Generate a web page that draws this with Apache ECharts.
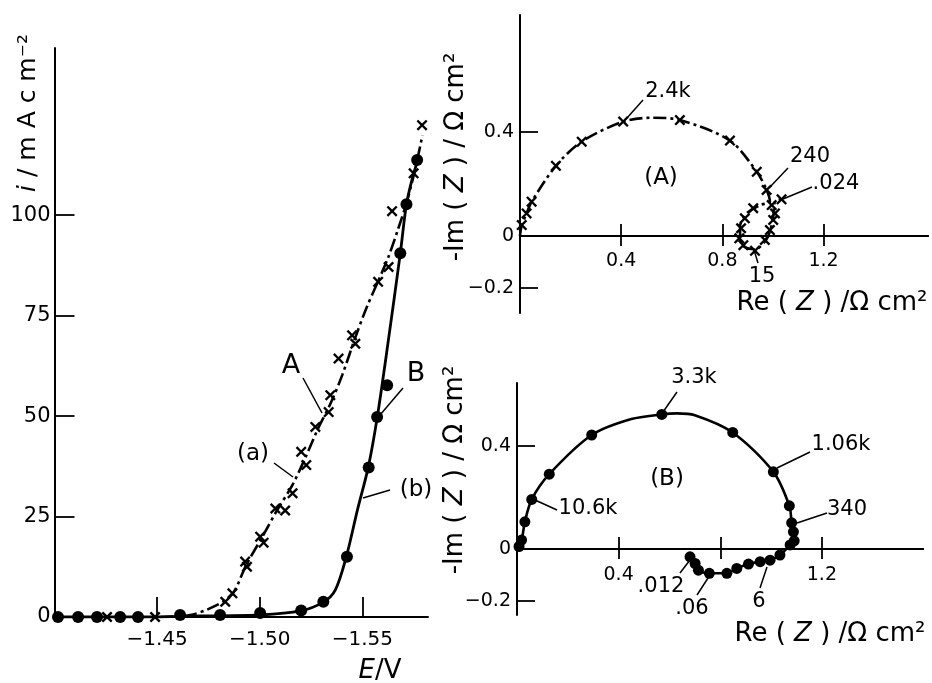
<!DOCTYPE html>
<html><head><meta charset="utf-8">
<script src="https://cdn.jsdelivr.net/npm/echarts@6/dist/echarts.min.js"></script>
<style>html,body{margin:0;padding:0;background:#fff}#c{width:932px;height:683px}</style>
</head><body><div id="c"></div>
<script>
// ---------- Left panel: i vs E ----------
const aPointsE = [-1.4256,-1.4490,-1.4832,-1.4867,-1.4929,-1.4938,-1.5002,-1.5019,-1.5076,-1.5124,-1.5160,-1.5202,-1.5227,-1.5271,-1.5336,-1.5344,-1.5384,-1.5450,-1.5466,-1.5577,-1.5628,-1.5645,-1.5750,-1.5791];
const aPointsI = [0,0,3.8,5.9,13.8,12.5,20,18.5,27,26.5,30.8,41.1,37.8,47.3,51,55.2,64.3,70.1,68,83.4,87.1,101,110.4,122.4];
const aCurveE = [-1.4515,-1.4661,-1.4773,-1.4866,-1.4934,-1.5012,-1.5085,-1.5159,-1.5222,-1.5285,-1.5344,-1.5402,-1.5466,-1.5520,-1.5573,-1.5627,-1.5676,-1.5715,-1.5754,-1.5793];
const aCurveI = [0,0.5,2.5,5.7,12.9,19.9,26.6,32.8,39.6,47.0,53.0,60.2,69.6,76.9,83.1,89.6,96.8,103.0,110.7,119.9];
const bPointsE = [-1.4017,-1.4115,-1.4207,-1.4320,-1.4407,-1.4612,-1.4807,-1.5002,-1.5202,-1.5310,-1.5425,-1.5531,-1.5572,-1.5621,-1.5685,-1.5715,-1.5767];
const bPointsI = [0,0,0,0,0,0.5,0.5,1.0,1.6,3.8,15,37.2,49.8,57.7,90.5,102.7,113.7];
const bCurveE = [-1.4000,-1.4466,-1.4710,-1.5002,-1.5198,-1.5310,-1.5368,-1.5422,-1.5476,-1.5529,-1.5573,-1.5627,-1.5685,-1.5715,-1.5744,-1.5773];
const bCurveI = [0,0,0.25,0.5,1.5,3.7,6.7,15,26.6,37.3,49.8,68.9,90.5,102.7,109.2,114.2];
const ivTicksE = [-1.45,-1.50,-1.55];
const ivTicksI = [0,25,50,75,100];

// ---------- Panel (A): Nyquist ----------
const nyAPointsRe = [0.007,0.026,0.046,0.142,0.244,0.408,0.632,0.830,0.936,0.975,1.034,0.922,0.889,0.874,0.867,0.883,0.929,0.968,0.988,1.001,1.008,0.995];
const nyAPointsIm = [0.042,0.087,0.132,0.270,0.363,0.440,0.446,0.367,0.247,0.177,0.141,0.107,0.068,0.030,-0.009,-0.035,-0.057,-0.015,0.023,0.062,0.087,0.119];
const nyACurveRe = [0,0.007,0.026,0.046,0.142,0.244,0.408,0.520,0.632,0.830,0.936,0.975,0.988,0.949,0.896,0.870,0.870,0.889,0.929,0.968,0.988,1.001,1.008,1.028];
const nyACurveIm = [0,0.042,0.087,0.132,0.270,0.363,0.440,0.455,0.446,0.367,0.247,0.177,0.132,0.119,0.087,0.036,-0.015,-0.043,-0.051,-0.022,0.017,0.074,0.132,0.141];

// ---------- Panel (B): Nyquist ----------
const nyBPointsRe = [0.008,0.018,0.031,0.058,0.127,0.294,0.570,0.849,1.009,1.072,1.081,1.088,1.091,1.075,1.035,0.996,0.957,0.911,0.865,0.826,0.757,0.714,0.701,0.681];
const nyBPointsIm = [0.010,0.035,0.106,0.193,0.291,0.443,0.523,0.453,0.300,0.168,0.102,0.067,0.032,0.016,-0.023,-0.043,-0.049,-0.058,-0.075,-0.094,-0.094,-0.082,-0.056,-0.030];
const nyBCurveRe = [0,0.018,0.031,0.058,0.127,0.294,0.450,0.570,0.629,0.700,0.849,1.009,1.072,1.081,1.088,1.091,1.075,1.035,0.996,0.957,0.911,0.865,0.826,0.757,0.714,0.701,0.681];
const nyBCurveIm = [0,0.035,0.106,0.193,0.291,0.443,0.505,0.523,0.527,0.520,0.453,0.300,0.168,0.102,0.067,0.032,0.016,-0.023,-0.043,-0.049,-0.058,-0.075,-0.094,-0.094,-0.082,-0.056,-0.030];
const nyTicksRe = [0.4,0.8,1.2];
const nyALabelsRe = [0.4,0.8,1.2];
const nyBLabelsRe = [0.4,1.2];
const nyTicksIm = [-0.2,0,0.4];

const FONT = 'DejaVu Sans';
const INK = '#000';
const pairs = (xs, ys) => xs.map((x, i) => [x, ys[i]]);
const crossPath = 'path://M0,1.5L1.5,0L5,3.5L8.5,0L10,1.5L6.5,5L10,8.5L8.5,10L5,6.5L1.5,10L0,8.5L3.5,5Z';
const fmtE = v => '\u2212' + Math.abs(v).toFixed(2);
const fmtNy = v => v === 0 ? '0' : (v < 0 ? '\u2212' : '') + Math.abs(v).toFixed(1);
const axLine = {onZero: false, lineStyle: {color: INK, width: 2}};
const lbl = (size, extra) => Object.assign({color: INK, fontFamily: FONT, fontSize: size}, extra);

// grids for the two impedance panels
const gA = {left: 520, top: 15, width: 408, height: 298, ymin: -0.296, ymax: 0.85, xmax: 1.613};
const gB = {left: 517, top: 383, width: 406, height: 232, ymin: -0.256, ymax: 0.645, xmax: 1.598};
const zeroOffset = g => -g.height * (0 - g.ymin) / (g.ymax - g.ymin);

function nyX(grid, g, labels) {
  const off = zeroOffset(g);
  return [
    {gridIndex: grid, type: 'value', min: 0, max: g.xmax, position: 'bottom', offset: off,
     axisLine: axLine,
     axisTick: {inside: false, length: 10, customValues: nyTicksRe, lineStyle: {color: INK, width: 1.8}},
     axisLabel: lbl(19, {customValues: labels, margin: 16, formatter: fmtNy}),
     splitLine: {show: false}},
    {gridIndex: grid, type: 'value', min: 0, max: g.xmax, position: 'bottom', offset: off,
     axisLine: axLine,
     axisTick: {inside: true, length: 12, customValues: nyTicksRe, lineStyle: {color: INK, width: 1.8}},
     axisLabel: {show: false}, splitLine: {show: false}}
  ];
}
function nyY(grid, g) {
  return {gridIndex: grid, type: 'value', min: g.ymin, max: g.ymax,
    axisLine: axLine,
    axisTick: {inside: true, length: 18, customValues: nyTicksIm, lineStyle: {color: INK, width: 1.8}},
    axisLabel: lbl(19, {customValues: nyTicksIm, margin: 6, formatter: fmtNy, padding: [0, 0, 10, 0]}),
    splitLine: {show: false}};
}

const txt = (x, y, text, size, extra) => ({type: 'text', x: x, y: y, silent: true,
  style: Object.assign({text: text, fill: INK, font: size + 'px "' + FONT + '"', align: 'center', verticalAlign: 'middle'}, extra || {})});
const seg = (x1, y1, x2, y2) => ({type: 'line', silent: true, shape: {x1, y1, x2, y2}, style: {stroke: INK, lineWidth: 1.5}});
const richBase = size => ({n: {fontSize: size, fontFamily: FONT, fill: INK}, it: {fontSize: size, fontFamily: FONT, fontStyle: 'italic', fill: INK}});
const rtxt = (x, y, text, size, rot) => ({type: 'text', x: x, y: y, rotation: rot || 0, silent: true,
  style: {text: text, rich: richBase(size), align: 'center', verticalAlign: 'middle', fill: INK, font: size + 'px "' + FONT + '"'}});

const option = {
  backgroundColor: '#fff',
  animation: false,
  grid: [
    {left: 54.5, top: 48, width: 373.5, height: 569},
    {left: gA.left, top: gA.top, width: gA.width, height: gA.height},
    {left: gB.left, top: gB.top, width: gB.width, height: gB.height}
  ],
  xAxis: [
    {gridIndex: 0, type: 'value', min: -1.582, max: -1.40, inverse: true,
     axisLine: axLine,
     axisTick: {inside: true, length: 20, customValues: ivTicksE, lineStyle: {color: INK, width: 1.8}},
     axisLabel: lbl(20, {customValues: ivTicksE, margin: 13, formatter: fmtE}),
     splitLine: {show: false}},
    ...nyX(1, gA, nyALabelsRe),
    ...nyX(2, gB, nyBLabelsRe)
  ],
  yAxis: [
    {gridIndex: 0, type: 'value', min: 0, max: 141.6,
     axisLine: axLine,
     axisTick: {inside: true, length: 20, customValues: ivTicksI, lineStyle: {color: INK, width: 1.8}},
     axisLabel: lbl(21, {customValues: ivTicksI, margin: 4}),
     splitLine: {show: false}},
    nyY(1, gA),
    nyY(2, gB)
  ],
  series: [
    {type: 'line', xAxisIndex: 0, yAxisIndex: 0, data: pairs(aCurveE, aCurveI), smooth: 0.3, showSymbol: false,
     lineStyle: {color: INK, width: 2.6, type: [13, 4, 3, 4]}},
    {type: 'scatter', xAxisIndex: 0, yAxisIndex: 0, data: pairs(aPointsE, aPointsI), symbol: crossPath, symbolSize: 11, itemStyle: {color: INK, opacity: 1}},
    {type: 'line', xAxisIndex: 0, yAxisIndex: 0, data: pairs(bCurveE, bCurveI), smooth: 0.3, showSymbol: false,
     lineStyle: {color: INK, width: 2.8}},
    {type: 'scatter', xAxisIndex: 0, yAxisIndex: 0, data: pairs(bPointsE, bPointsI), symbol: 'circle', symbolSize: 12, itemStyle: {color: INK, opacity: 1}},
    {type: 'line', xAxisIndex: 1, yAxisIndex: 1, data: pairs(nyACurveRe, nyACurveIm), smooth: 0.3, showSymbol: false,
     lineStyle: {color: INK, width: 2.6, type: [13, 4, 3, 4]}},
    {type: 'scatter', xAxisIndex: 1, yAxisIndex: 1, data: pairs(nyAPointsRe, nyAPointsIm), symbol: crossPath, symbolSize: 11, itemStyle: {color: INK, opacity: 1}},
    {type: 'line', xAxisIndex: 3, yAxisIndex: 2, data: pairs(nyBCurveRe, nyBCurveIm), smooth: 0.3, showSymbol: false,
     lineStyle: {color: INK, width: 2.6}},
    {type: 'scatter', xAxisIndex: 3, yAxisIndex: 2, data: pairs(nyBPointsRe, nyBPointsIm), symbol: 'circle', symbolSize: 11, itemStyle: {color: INK, opacity: 1}}
  ],
  graphic: [
    // axis titles
    rtxt(28, 113, '{it|i}{n| / m A c m\u207B\u00B2}', 25, Math.PI / 2),
    rtxt(380, 671, '{it|E}{n|/V}', 26),
    rtxt(456, 157, '{n|-Im ( }{it|Z}{n| ) / \u03A9 cm\u00B2}', 26, Math.PI / 2),
    rtxt(455, 470, '{n|-Im ( }{it|Z}{n| ) / \u03A9 cm\u00B2}', 26, Math.PI / 2),
    rtxt(832, 303, '{n|Re ( }{it|Z}{n| ) /\u03A9 cm\u00B2}', 26),
    rtxt(830, 634, '{n|Re ( }{it|Z}{n| ) /\u03A9 cm\u00B2}', 26),
    // left panel annotations
    txt(291, 366, 'A', 27), seg(303, 378, 322, 413),
    txt(416, 374, 'B', 27), seg(403, 388, 380, 415),
    txt(253, 454, '(a)', 23), seg(274, 463, 293, 477),
    txt(416, 490, '(b)', 23), seg(390, 490, 363, 498),
    // panel A annotations
    txt(661, 178, '(A)', 23),
    txt(668, 92, '2.4k', 21), seg(643, 100, 627, 118),
    txt(810, 157, '240', 21), seg(788, 168, 770, 187),
    txt(836, 184, '.024', 21), seg(812, 187, 783, 199),
    txt(762, 277, '15', 21), seg(758, 263, 754, 250),
    // panel B annotations
    txt(667, 479, '(B)', 23),
    txt(694, 378, '3.3k', 21), seg(677, 392, 663, 412),
    txt(841, 445, '1.06k', 21), seg(810, 452, 777, 468),
    txt(588, 509, '10.6k', 21), seg(557, 510, 535, 500),
    txt(847, 510, '340', 21), seg(827, 513, 797, 523),
    txt(661, 587, '.012', 21), seg(680, 573, 690, 560),
    txt(692, 609, '.06', 21), seg(697, 595, 710, 575),
    txt(759, 602, '6', 21), seg(760, 588, 767, 567)
  ]
};
const chart = echarts.init(document.getElementById('c'), null, {renderer: 'canvas'});
chart.setOption(option);
</script>
</body></html>
